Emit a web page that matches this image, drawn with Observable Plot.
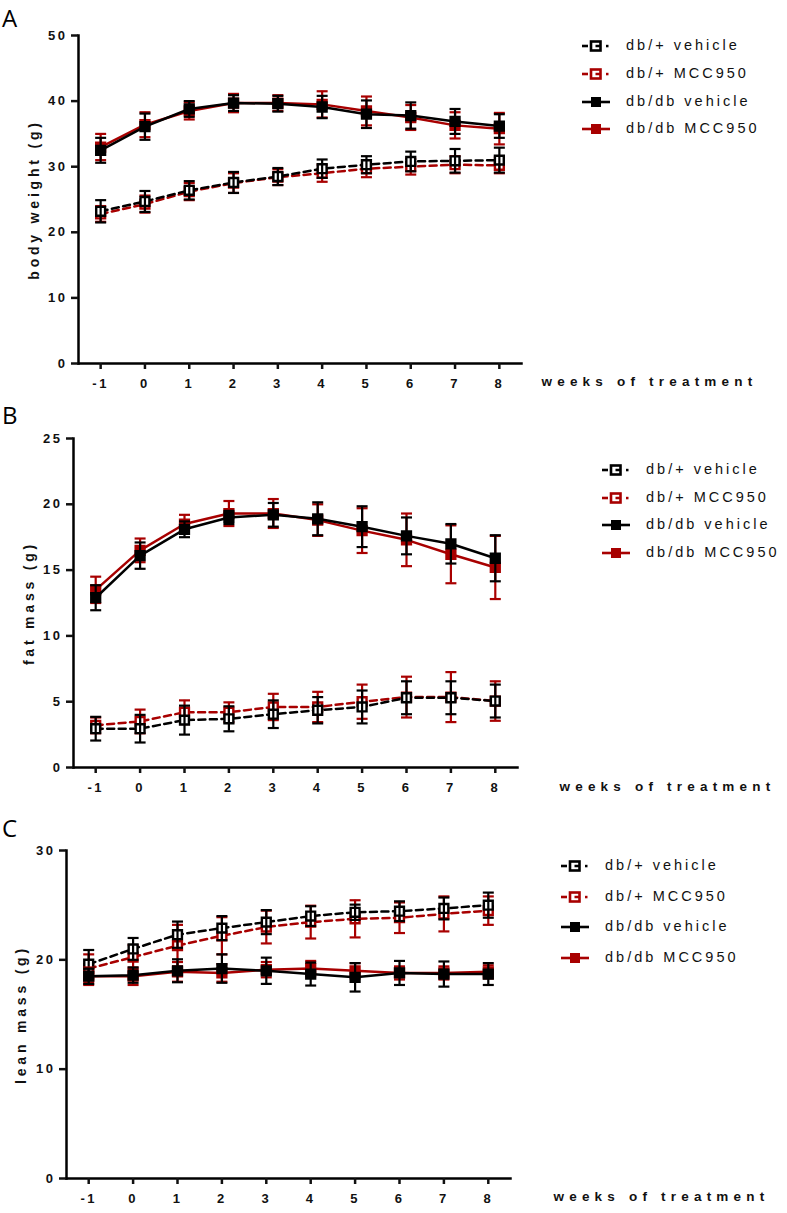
<!DOCTYPE html>
<html><head><meta charset="utf-8">
<script src="https://cdn.jsdelivr.net/npm/d3@7"></script>
<script src="https://cdn.jsdelivr.net/npm/@observablehq/plot@0.6"></script>
<style>
body{margin:0;background:#fff;}
#root{position:relative;width:787px;height:1213px;overflow:hidden;background:#fff;}
.panel{position:absolute;left:0;}
.panel svg{overflow:visible;}
.panel g[aria-label="x-axis tick label"] text,.panel g[aria-label="y-axis tick label"] text{letter-spacing:2.5px;}
.letter{position:absolute;font-family:"Open Sans",sans-serif;font-size:24px;color:#000;line-height:1;}
.lg{position:absolute;font-family:"Liberation Sans",Arial,sans-serif;font-size:14.5px;letter-spacing:3px;color:#111;white-space:nowrap;line-height:1;}
.sym{position:absolute;}
</style>
</head><body><div id="root"></div>
<script>
// ---------- data ----------
const weeks = [-1, 0, 1, 2, 3, 4, 5, 6, 7, 8];
const groups = ["db/+ vehicle", "db/+ MCC950", "db/db vehicle", "db/db MCC950"];

// A: body weight (g)
const bwWtVeh    = [23.2, 24.7, 26.4, 27.6, 28.5, 29.7, 30.3, 30.8, 30.9, 31.0];
const bwWtVehSem = [1.7, 1.6, 1.4, 1.6, 1.3, 1.4, 1.3, 1.5, 1.8, 1.9];
const bwWtMcc    = [22.8, 24.3, 26.2, 27.5, 28.4, 29.0, 29.7, 30.0, 30.3, 30.2];
const bwWtMccSem = [1.2, 1.3, 1.3, 1.5, 1.2, 1.3, 1.3, 1.2, 1.3, 1.2];
const bwDbVeh    = [32.5, 36.1, 38.8, 39.7, 39.6, 39.1, 38.0, 37.8, 36.9, 36.2];
const bwDbVehSem = [1.9, 2.0, 1.2, 1.2, 1.2, 1.7, 2.1, 2.0, 1.9, 1.8];
const bwDbMcc    = [33.0, 36.4, 38.5, 39.7, 39.7, 39.5, 38.5, 37.5, 36.3, 35.8];
const bwDbMccSem = [2.0, 1.9, 1.3, 1.4, 1.2, 2.0, 2.2, 1.9, 2.0, 2.4];

// B: fat mass (g)
const fmWtVeh    = [2.95, 2.95, 3.6, 3.7, 4.05, 4.35, 4.6, 5.3, 5.3, 5.05];
const fmWtVehSem = [0.9, 1.05, 1.1, 0.95, 1.05, 1.0, 1.25, 1.25, 1.25, 1.25];
const fmWtMcc    = [3.2, 3.5, 4.2, 4.2, 4.6, 4.6, 5.0, 5.35, 5.35, 5.05];
const fmWtMccSem = [0.6, 0.9, 0.9, 0.75, 1.0, 1.15, 1.3, 1.55, 1.9, 1.5];
const fmDbVeh    = [12.9, 16.1, 18.1, 19.0, 19.2, 18.9, 18.3, 17.6, 17.0, 15.9];
const fmDbVehSem = [0.95, 1.0, 0.6, 0.5, 0.9, 1.25, 1.55, 1.4, 1.5, 1.75];
const fmDbMcc    = [13.5, 16.5, 18.5, 19.3, 19.3, 18.8, 18.0, 17.3, 16.2, 15.2];
const fmDbMccSem = [1.0, 0.9, 0.7, 0.95, 1.1, 1.2, 1.7, 2.0, 2.2, 2.4];

// C: lean mass (g)
const lmWtVeh    = [19.6, 21.0, 22.3, 22.9, 23.45, 24.0, 24.35, 24.45, 24.7, 25.0];
const lmWtVehSem = [1.3, 1.0, 1.2, 1.1, 1.1, 0.9, 0.7, 0.9, 1.0, 1.15];
const lmWtMcc    = [19.2, 20.25, 21.3, 22.2, 23.0, 23.45, 23.75, 23.85, 24.2, 24.5];
const lmWtMccSem = [1.3, 1.1, 1.9, 1.7, 1.5, 1.5, 1.7, 1.4, 1.6, 1.3];
const lmDbVeh    = [18.5, 18.6, 19.0, 19.2, 19.0, 18.7, 18.4, 18.8, 18.7, 18.7];
const lmDbVehSem = [0.7, 0.7, 1.05, 1.3, 1.2, 1.05, 1.3, 1.1, 1.15, 1.0];
const lmDbMcc    = [18.5, 18.5, 18.9, 18.8, 19.1, 19.2, 19.0, 18.8, 18.8, 18.9];
const lmDbMccSem = [0.8, 0.8, 0.9, 0.8, 0.7, 0.7, 0.7, 0.6, 0.6, 0.6];

const yTicksA = [0, 10, 20, 30, 40, 50];
const yTicksB = [0, 5, 10, 15, 20, 25];
const yTicksC = [0, 10, 20, 30];
const xTitle = "weeks of treatment";

// ---------- styling ----------
const RED = "#a80000", BLACK = "#000";
const capSymbol = {draw(ctx, size) { const w = Math.sqrt(size / Math.PI); ctx.moveTo(-w, 0); ctx.lineTo(w, 0); }};

function table(vals, sem) {
  return weeks.map((w, i) => ({week: w, v: vals[i], lo: vals[i] - sem[i], hi: vals[i] + sem[i]}));
}

function seriesMarks(vals, sem, color, dashed) {
  const d = table(vals, sem);
  return [
    Plot.line(d, {x: "week", y: "v", stroke: color, strokeWidth: 2.5, strokeDasharray: dashed ? "7,4.5" : null}),
    Plot.dot(d, {x: "week", y: "v", symbol: "square", r: 5, fill: dashed ? "#fff" : color, stroke: color, strokeWidth: 2.4}),
    Plot.ruleX(d, {x: "week", y1: "lo", y2: "hi", stroke: color, strokeWidth: 2.2}),
    Plot.dot(d, {x: "week", y: "lo", symbol: capSymbol, r: 5.5, stroke: color, strokeWidth: 2.2}),
    Plot.dot(d, {x: "week", y: "hi", symbol: capSymbol, r: 5.5, stroke: color, strokeWidth: 2.2})
  ];
}

function makePanel(cfg) {
  const plot = Plot.plot({
    width: 787,
    height: cfg.height,
    marginLeft: cfg.x0,
    marginRight: 787 - cfg.x1,
    marginTop: cfg.yTopPx - cfg.top,
    marginBottom: cfg.top + cfg.height - cfg.yBotPx,
    x: {domain: [-1.5, 8.5]},
    y: {domain: [0, cfg.yMax]},
    style: {fontFamily: "'Liberation Sans', Arial, sans-serif", fontSize: "13px", fontWeight: "bold", color: "#111", background: "transparent"},
    marks: [
      ...cfg.series.flatMap(s => seriesMarks(s.vals, s.sem, s.color, s.dashed)),
      Plot.frame({anchor: "left", stroke: BLACK, strokeWidth: 2.5}),
      Plot.frame({anchor: "bottom", stroke: BLACK, strokeWidth: 2.5}),
      Plot.axisX({ticks: weeks, tickFormat: d => String(d), tickSize: 6, tickPadding: 9, strokeWidth: 2.5, label: null}),
      Plot.axisY({ticks: cfg.yTicks, tickFormat: d => String(d), tickSize: 7, tickPadding: 4, strokeWidth: 2.5, label: null}),
      Plot.text([cfg.yLabel], {frameAnchor: "left", dx: cfg.labelDx, rotate: -90, textAnchor: "middle", fontSize: 14, fontWeight: "bold"}),
      Plot.text([xTitle], {frameAnchor: "bottom-right", dx: cfg.weeksDx, dy: cfg.weeksDy, textAnchor: "start", fontSize: 13.5, fontWeight: "bold"})
    ]
  });
  d3.select(plot).selectAll('g[aria-label="text"] text').each(function() {
    this.style.letterSpacing = this.textContent === xTitle ? "5.2px" : "3.8px";
  });
  const div = document.createElement("div");
  div.className = "panel";
  div.style.top = cfg.top + "px";
  div.appendChild(plot);
  root.appendChild(div);
}

const root = document.getElementById("root");

makePanel({
  top: 0, height: 400, x0: 78, x1: 521, yTopPx: 35, yBotPx: 363, yMax: 50, yTicks: yTicksA,
  yLabel: "body weight (g)", labelDx: -44, weeksDx: 20, weeksDy: 22,
  series: [
    {vals: bwWtMcc, sem: bwWtMccSem, color: RED, dashed: true},
    {vals: bwWtVeh, sem: bwWtVehSem, color: BLACK, dashed: true},
    {vals: bwDbMcc, sem: bwDbMccSem, color: RED, dashed: false},
    {vals: bwDbVeh, sem: bwDbVehSem, color: BLACK, dashed: false}
  ]
});
makePanel({
  top: 400, height: 410, x0: 73, x1: 517, yTopPx: 438, yBotPx: 767, yMax: 25, yTicks: yTicksB,
  yLabel: "fat mass (g)", labelDx: -44, weeksDx: 42, weeksDy: 23,
  series: [
    {vals: fmWtMcc, sem: fmWtMccSem, color: RED, dashed: true},
    {vals: fmWtVeh, sem: fmWtVehSem, color: BLACK, dashed: true},
    {vals: fmDbMcc, sem: fmDbMccSem, color: RED, dashed: false},
    {vals: fmDbVeh, sem: fmDbVehSem, color: BLACK, dashed: false}
  ]
});
makePanel({
  top: 810, height: 403, x0: 66, x1: 510, yTopPx: 850, yBotPx: 1178, yMax: 30, yTicks: yTicksC,
  yLabel: "lean mass (g)", labelDx: -45, weeksDx: 43, weeksDy: 22,
  series: [
    {vals: lmWtMcc, sem: lmWtMccSem, color: RED, dashed: true},
    {vals: lmWtVeh, sem: lmWtVehSem, color: BLACK, dashed: true},
    {vals: lmDbMcc, sem: lmDbMccSem, color: RED, dashed: false},
    {vals: lmDbVeh, sem: lmDbVehSem, color: BLACK, dashed: false}
  ]
});

// panel letters
[["A", 2, 6], ["B", 2, 403], ["C", 2, 816]].forEach(([t, x, y]) => {
  const d = document.createElement("div");
  d.className = "letter"; d.textContent = t;
  d.style.left = x + "px"; d.style.top = y + "px";
  root.appendChild(d);
});

// legends
const legendStyles = [
  {color: BLACK, dashed: true},
  {color: RED, dashed: true},
  {color: BLACK, dashed: false},
  {color: RED, dashed: false}
];
function legend(symX, textX, rows) {
  groups.forEach((g, i) => {
    const st = legendStyles[i];
    const svg = d3.create("svg").attr("class", "sym").attr("width", 30).attr("height", 14)
      .style("left", symX + "px").style("top", (rows[i] - 7) + "px");
    if (st.dashed) {
      svg.append("line").attr("x1", 0).attr("x2", 6).attr("y1", 7).attr("y2", 7).attr("stroke", st.color).attr("stroke-width", 2.6);
      svg.append("rect").attr("x", 9).attr("y", 2.5).attr("width", 9.5).attr("height", 9).attr("fill", "#fff").attr("stroke", st.color).attr("stroke-width", 2.6);
      svg.append("line").attr("x1", 13.5).attr("x2", 18).attr("y1", 7).attr("y2", 7).attr("stroke", st.color).attr("stroke-width", 2.5);
      svg.append("rect").attr("x", 24).attr("y", 5.8).attr("width", 2.5).attr("height", 2.5).attr("fill", st.color);
    } else {
      svg.append("line").attr("x1", 0).attr("x2", 28).attr("y1", 7).attr("y2", 7).attr("stroke", st.color).attr("stroke-width", 2.6);
      svg.append("rect").attr("x", 9).attr("y", 2).attr("width", 10).attr("height", 10).attr("fill", st.color);
    }
    root.appendChild(svg.node());
    const t = document.createElement("div");
    t.className = "lg"; t.textContent = g;
    t.style.left = textX + "px"; t.style.top = (rows[i] - 8) + "px";
    root.appendChild(t);
  });
}
legend(582, 626, [46, 74, 102, 129]);
legend(602, 646, [470, 498, 525, 553]);
legend(561, 605, [866, 897, 927, 958]);
</script>
</body></html>
